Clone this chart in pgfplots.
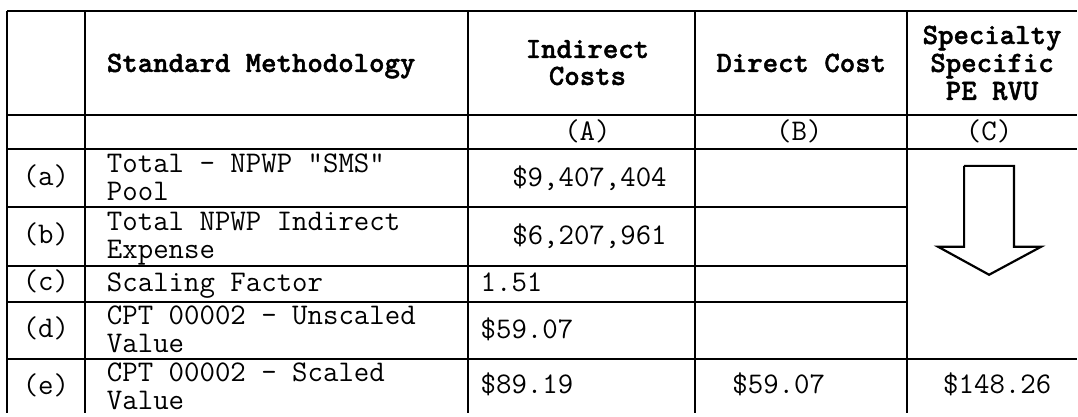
\documentclass[border=0pt]{standalone}
\usepackage{pgfplots}
\pgfplotsset{compat=1.18}
\usepackage{fontspec}
\newfontfamily\hbf{lmmonolt10-bold.otf}[FakeBold=1.5]

% table geometry is in pixel units of the reference (1 px = 0.5pt)
\newcommand{\tf}{\ttfamily\fontsize{15}{17}\selectfont}
\newcommand{\hf}{\hbf\fontsize{14.7}{17}\selectfont}

\begin{document}
\begin{tikzpicture}
\begin{axis}[%
    ,scale only axis
    ,width=539pt, height=206.5pt
    ,xmin=0, xmax=1078, ymin=0, ymax=413
    ,y dir=reverse
    ,hide axis
    ,clip=false
    ,tbl/.style={black, line width=1pt, mark=none, forget plot}
    ,every node/.append style={inner sep=0pt}
    ]
% page corners
\addplot[draw=none, mark=none, forget plot] coordinates {(0,0) (1078,413)};

% horizontal rules
\addplot[tbl] coordinates {(7,11) (1078,11)};
\addplot[tbl] coordinates {(7,115) (1078,115)};
\addplot[tbl] coordinates {(7,149) (1078,149)};
\addplot[tbl] coordinates {(7,207) (908,207)};
\addplot[tbl] coordinates {(7,266) (908,266)};
\addplot[tbl] coordinates {(7,302) (908,302)};
\addplot[tbl] coordinates {(7,359) (1078,359)};
% vertical rules
\addplot[tbl] coordinates {(7,11) (7,413)};
\addplot[tbl] coordinates {(85,11) (85,413)};
\addplot[tbl] coordinates {(468,11) (468,413)};
\addplot[tbl] coordinates {(696,11) (696,413)};
\addplot[tbl] coordinates {(908,11) (908,413)};

% outline arrow in column C
\addplot[black, line width=1.1pt, mark=none] coordinates {
    (965,166) (1015,166) (1015,247) (1042,247) (990,275) (939,247) (965,247) (965,166)};

% header
\node[anchor=base west, font=\hf] at (axis cs:100,72) {Standard Methodology};
\node[anchor=base, font=\hf] at (axis cs:588,58) {Indirect};
\node[anchor=base, font=\hf] at (axis cs:588,85) {Costs};
\node[anchor=base, font=\hf] at (axis cs:802,72) {Direct Cost};
\node[anchor=base, font=\hf] at (axis cs:993,44) {Specialty};
\node[anchor=base, font=\hf] at (axis cs:993,72) {Specific};
\node[anchor=base, font=\hf] at (axis cs:993,100) {PE RVU};

\node[anchor=base, font=\tf] at (axis cs:588,141) {(A)};
\node[anchor=base, font=\tf] at (axis cs:800,141) {(B)};
\node[anchor=base, font=\tf] at (axis cs:990,141) {(C)};

% row labels
\node[anchor=base, font=\tf] at (axis cs:46,186) {(a)};
\node[anchor=base, font=\tf] at (axis cs:46,244) {(b)};
\node[anchor=base, font=\tf] at (axis cs:46,291) {(c)};
\node[anchor=base, font=\tf] at (axis cs:46,338) {(d)};
\node[anchor=base, font=\tf] at (axis cs:46,395) {(e)};

% descriptions
\node[anchor=base west, font=\tf] at (axis cs:100,173) {Total - NPWP "SMS"};
\node[anchor=base west, font=\tf] at (axis cs:100,201) {Pool};
\node[anchor=base west, font=\tf] at (axis cs:100,231) {Total NPWP Indirect};
\node[anchor=base west, font=\tf] at (axis cs:100,259) {Expense};
\node[anchor=base west, font=\tf] at (axis cs:100,292) {Scaling Factor};
\node[anchor=base west, font=\tf] at (axis cs:100,325) {CPT 00002 - Unscaled};
\node[anchor=base west, font=\tf] at (axis cs:100,353) {Value};
\node[anchor=base west, font=\tf] at (axis cs:100,382) {CPT 00002 - Scaled};
\node[anchor=base west, font=\tf] at (axis cs:100,410) {Value};

% values
\node[anchor=base, font=\tf] at (axis cs:590,187) {\$9,407,404};
\node[anchor=base, font=\tf] at (axis cs:590,245) {\$6,207,961};
\node[anchor=base west, font=\tf] at (axis cs:474,292) {1.51};
\node[anchor=base west, font=\tf] at (axis cs:474,339) {\$59.07};
\node[anchor=base west, font=\tf] at (axis cs:474,394) {\$89.19};
\node[anchor=base west, font=\tf] at (axis cs:726,394) {\$59.07};
\node[anchor=base west, font=\tf] at (axis cs:937,394) {\$148.26};
\end{axis}
\end{tikzpicture}
\end{document}
